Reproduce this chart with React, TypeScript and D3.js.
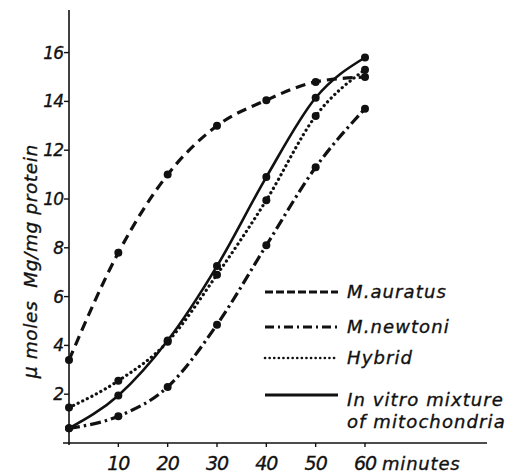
import React from 'react'
import * as d3 from 'd3'

const minutes = [0, 10, 20, 30, 40, 50, 60]
const auratus = [3.4, 7.8, 11.0, 13.0, 14.05, 14.8, 15.0]
const newtoni = [0.6, 1.1, 2.3, 4.85, 8.1, 11.3, 13.7]
const hybrid = [1.45, 2.55, 4.15, 6.9, 9.95, 13.4, 15.3]
const inVitro = [0.6, 1.95, 4.2, 7.25, 10.9, 14.15, 15.8]

const xTicks = [10, 20, 30, 40, 50, 60]
const yTicks = [2, 4, 6, 8, 10, 12, 14, 16]

const series = [
  { name: 'M.auratus', values: auratus, dash: '10,6', legendDash: '8,3' },
  { name: 'M.newtoni', values: newtoni, dash: '11,4,2.5,4', legendDash: '9,4,2,4' },
  { name: 'Hybrid', values: hybrid, dash: '0.1,5', legendDash: '0.1,4.5' },
  { name: 'In vitro mixture|of mitochondria', values: inVitro, dash: null, legendDash: null },
]

const font = '"DejaVu Sans", sans-serif'
const ink = '#111'

export default function App() {
  const width = 518
  const height = 473

  // svg is offset by the 8px body margin, so work in page coords minus 8
  const x = d3.scaleLinear().domain([0, 60]).range([61, 357])
  const y = d3.scaleLinear().domain([0, 16]).range([435, 44.6])

  const line = d3
    .line<number>()
    .x((_, i) => x(minutes[i]))
    .y((d) => y(d))
    .curve(d3.curveMonotoneX)

  const legendY = [284, 319, 350, 387]

  const textStyle = {
    fontFamily: font,
    fontStyle: 'italic',
    fill: ink,
    stroke: ink,
    strokeWidth: 0.35,
  }

  return (
    <svg width={width} height={height} style={{ display: 'block', marginTop: -8, marginLeft: -8 }}>
      <g transform="translate(8,8)">
        {/* axes */}
        <line x1={x(0)} x2={x(0)} y1={2} y2={y(0) + 2} stroke={ink} strokeWidth={1.6} />
        <line x1={x(0) - 6} x2={479} y1={y(0)} y2={y(0)} stroke={ink} strokeWidth={1.6} />
        {yTicks.map((t) => (
          <g key={t}>
            <line x1={x(0) - 5} x2={x(0)} y1={y(t)} y2={y(t)} stroke={ink} strokeWidth={1.4} />
            <text x={x(0) - 6} y={y(t)} dy="0.35em" textAnchor="end" fontSize={17} letterSpacing={-1} style={textStyle}>
              {t}
            </text>
          </g>
        ))}
        {xTicks.map((t) => (
          <g key={t}>
            <line x1={x(t)} x2={x(t)} y1={y(0)} y2={y(0) + 4} stroke={ink} strokeWidth={1.4} />
            <text x={x(t)} y={y(0) + 27} textAnchor="middle" fontSize={19} letterSpacing={-1} style={textStyle}>
              {t}
            </text>
          </g>
        ))}
        <text x={x(60) + 17} y={y(0) + 27} fontSize={18} letterSpacing={0.8} style={textStyle}>
          minutes
        </text>
        <text
          transform={`translate(29,${y(7.45)}) rotate(-90)`}
          textAnchor="middle"
          fontSize={18.5}
          letterSpacing={0.6}
          xmlSpace="preserve"
          style={textStyle}
        >
          {'\u03bc moles  Mg/mg protein'}
        </text>

        {/* curves */}
        {series.map((s) => (
          <g key={s.name}>
            <path
              d={line(s.values) || ''}
              fill="none"
              stroke={ink}
              strokeWidth={s.dash ? 3.2 : 2.6}
              strokeLinecap={s.name === 'Hybrid' ? 'round' : 'butt'}
              strokeDasharray={s.dash || undefined}
            />
            {s.values.map((v, i) => (
              <circle key={i} cx={x(minutes[i])} cy={y(v)} r={4} fill={ink} />
            ))}
          </g>
        ))}

        {/* legend */}
        {series.map((s, i) => {
          const ly = legendY[i]
          const lines = s.name.split('|')
          return (
            <g key={s.name}>
              <line
                x1={257}
                x2={330}
                y1={ly}
                y2={ly}
                stroke={ink}
                strokeWidth={s.name === 'Hybrid' ? 2.6 : 3}
                strokeLinecap={s.name === 'Hybrid' ? 'round' : 'butt'}
                strokeDasharray={s.legendDash || undefined}
              />
              {lines.map((t, j) => (
                <text
                  key={j}
                  x={339}
                  y={ly + 6 + (lines.length > 1 ? 5 + j * 22 : 0)}
                  fontSize={18}
                  letterSpacing={1.1}
                  style={textStyle}
                >
                  {t}
                </text>
              ))}
            </g>
          )
        })}
      </g>
    </svg>
  )
}
